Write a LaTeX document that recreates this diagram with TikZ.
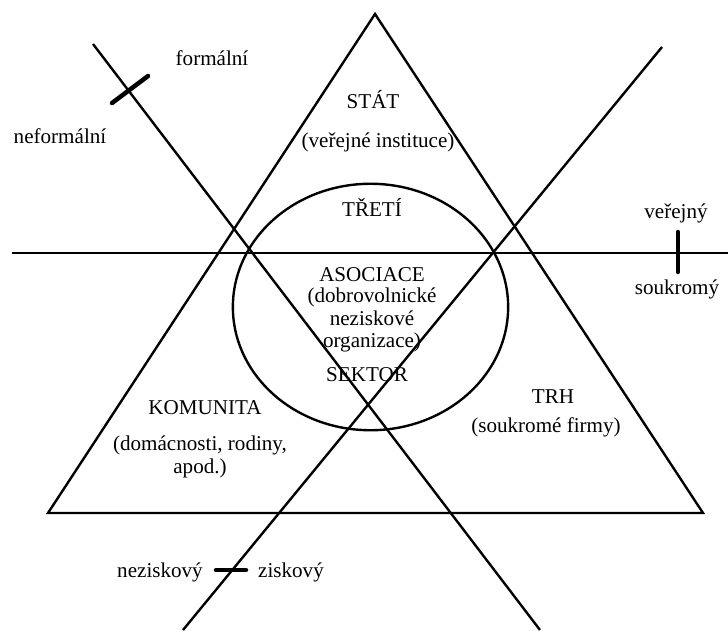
\documentclass[tikz,border=0pt]{standalone}
\usepackage{fontspec}
\setmainfont{Liberation Serif}
\begin{document}
\begin{tikzpicture}[x=0.025cm, y=-0.025cm, line width=1.7pt,
    every node/.style={font=\fontsize{15}{16.3}\selectfont, inner sep=0pt, align=center}]
  \useasboundingbox (0,0) rectangle (728,630);
  % big triangle
  \coordinate (top) at (375,14);
  \coordinate (bl) at (48,513);
  \coordinate (br) at (703,513);
  \draw[line join=miter] (top) -- (bl) -- (br) -- cycle;
  % horizontal line: verejny / soukromy
  \coordinate (hl) at (12,253);
  \coordinate (hr) at (728,253);
  \draw (hl) -- (hr);
  % crossing lines
  \coordinate (a1) at (93,44);
  \coordinate (a2) at (540,630);
  \coordinate (b1) at (662,47);
  \coordinate (b2) at (183,630);
  \draw (a1) -- (a2);
  \draw (b1) -- (b2);
  % third sector
  \coordinate (mid) at (370.5,307);
  \draw (mid) ellipse [x radius=3.44cm, y radius=3.08cm];
  % ticks on the dividing lines
  \draw[line width=3.2pt, line cap=round] (112,103) -- (148,76);
  \draw[line width=3.2pt, line cap=round] (678,232) -- (678,272);
  \draw[line width=3.2pt, line cap=round] (216,570) -- (246,570);
  % labels
  \node (formal) at (212,58) {formální};
  \node (neformal) at (60,136) {neformální};
  \node (verejny) at (676,213) {veřejný};
  \node (soukromy) at (677,289) {soukromý};
  \node (nezisk) at (160,572) {neziskový};
  \node (zisk) at (291,572) {ziskový};
  \node (stat) at (373,100) {STÁT};
  \node (statx) at (378,142) {(veřejné instituce)};
  \node (treti) at (372,207) {TŘETÍ};
  \node (asoc) at (372,275) {ASOCIACE};
  \node (asocx) at (372,320) {(dobrovolnické\\neziskové\\organizace)};
  \node (sektor) at (367,375) {SEKTOR};
  \node (komunita) at (205,408) {KOMUNITA};
  \node (komunitax) at (200,457) {(domácnosti, rodiny,\\apod.)};
  \node (trh) at (553,397) {TRH};
  \node (trhx) at (546,427) {(soukromé firmy)};
\end{tikzpicture}
\end{document}
